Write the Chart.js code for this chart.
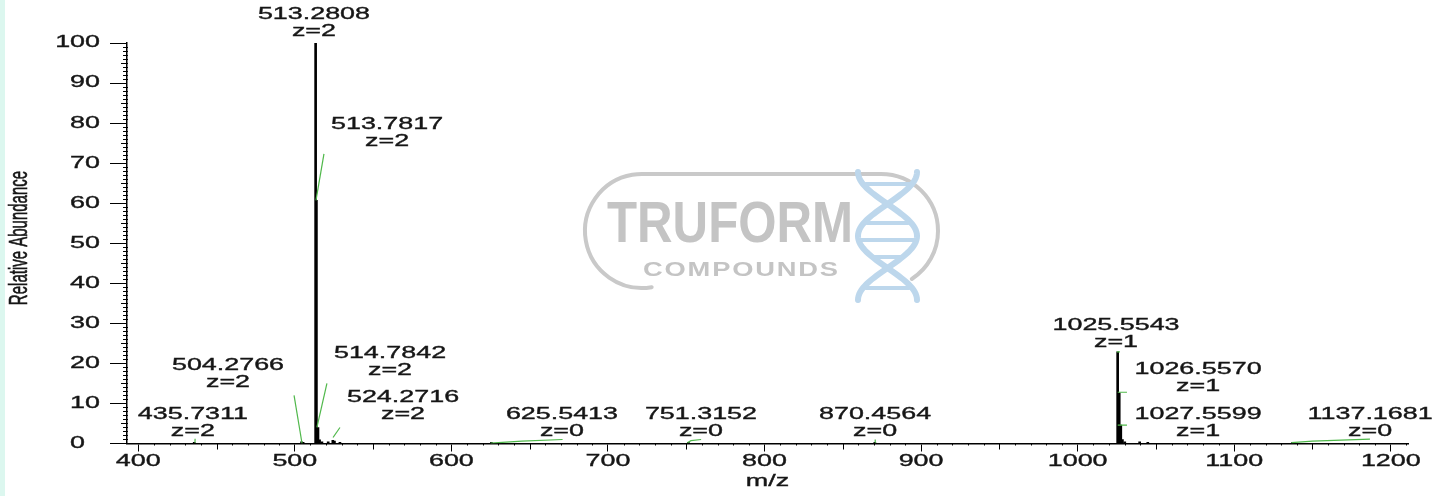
<!DOCTYPE html>
<html>
<head>
<meta charset="utf-8">
<script src="https://cdn.jsdelivr.net/npm/chart.js@4.4.0/dist/chart.umd.min.js"></script>
<style>
  html, body { margin: 0; padding: 0; background: #fff; }
  #wrap { position: relative; width: 1449px; height: 496px; overflow: hidden; }
  #wrap canvas { position: absolute; left: 0; top: 0; }
  #strip { position: absolute; left: 0; top: 0; width: 5px; height: 496px; background: #dcf7ef; }
</style>
</head>
<body>
<div id="wrap">
  <canvas id="spectrum" width="1449" height="496"></canvas>
  <div id="strip"></div>
</div>
<script>
// labelled peaks (m/z, relative abundance, charge)
const peakMz = [435.7311, 504.2766, 513.2808, 513.7817, 514.7842, 524.2716, 625.5413, 751.3152, 870.4564, 1025.5543, 1026.5570, 1027.5599, 1137.1681];
const peakAbund = [0.3, 0.4, 100, 60.7, 4.0, 0.8, 0.3, 0.3, 0.3, 22.9, 12.6, 4.6, 0.2];
const peakCharge = [2, 2, 2, 2, 2, 2, 0, 0, 0, 1, 1, 1, 0];

// small unlabelled signals near the baseline
const noiseMz = [505.3, 515.8, 517.3, 521.3, 525.3, 528.8, 1028.6, 1030.1, 1039.6, 1044.8];
const noiseAbund = [0.3, 0.9, 0.4, 0.4, 0.6, 0.3, 1.0, 0.4, 0.4, 0.3];

// green isotope-envelope marks, as [m/z, abundance] points
const envelopes = [
  [[436.2, 0.2], [436.3, 1.2]],
  [[499.5, 12.0], [504.6, 0.0]],
  [[513.5, 60.7], [518.6, 72.3]],
  [[514.1, 4.0], [520.5, 15.0]],
  [[524.4, 1.5], [528.8, 4.0]],
  [[625.0, 0.1], [645.0, 0.6], [671.0, 1.0]],
  [[750.7, 0.2], [753.0, 0.7], [759.5, 1.0]],
  [[870.6, 0.2], [870.7, 1.0]],
  [[1025.0, 22.9], [1027.0, 22.9]],
  [[1025.6, 12.8], [1031.5, 12.8]],
  [[1025.6, 4.6], [1031.5, 4.6]],
  [[1136.6, 0.2], [1150.0, 0.6], [1186.7, 1.1]]
];

const xTicks = [400, 500, 600, 700, 800, 900, 1000, 1100, 1200];
const yTicks = [0, 10, 20, 30, 40, 50, 60, 70, 80, 90, 100];

// where each peak's two-line annotation sits (centre of the "z=" line)
const labelMz = [434.9, 457.3, 512.2, 558.9, 560.8, 569.1, 670.6, 759.4, 870.6, 1024.5, 1076.9, 1076.9, 1186.8];
const labelAbund = [2.9, 15.3, 102.9, 75.5, 18.1, 7.1, 2.9, 2.9, 2.9, 25.3, 14.1, 2.9, 2.9];

const STRETCH = 1.68;
const TEXT_FONT = '16px "Liberation Sans", Arial, sans-serif';
const TEXT_COLOR = '#161616';

function stretchedText(ctx, text, x, y, align) {
  ctx.save();
  ctx.translate(x, y);
  ctx.scale(STRETCH, 1);
  ctx.textAlign = align || 'center';
  ctx.textBaseline = 'middle';
  ctx.strokeStyle = TEXT_COLOR;
  ctx.lineWidth = 0.35;
  ctx.fillText(text, 0, 0);
  ctx.strokeText(text, 0, 0);
  ctx.restore();
}

const watermark = {
  id: 'watermark',
  beforeDatasetsDraw(chart) {
    const ctx = chart.ctx;
    ctx.save();
    // pill outline
    ctx.strokeStyle = '#c9c9c9';
    ctx.lineWidth = 4;
    ctx.lineCap = 'round';
    const cy = 231, r = 57, lx = 642, rx = 881;
    ctx.beginPath();
    ctx.arc(lx, cy, r, 1.4, -Math.PI / 2, false);
    ctx.lineTo(rx, cy - r);
    ctx.arc(rx, cy, r, -Math.PI / 2, 1.0, false);
    ctx.stroke();

    // TRUFORM
    ctx.fillStyle = '#c4c4c4';
    ctx.font = 'bold 57px "Liberation Sans", Arial, sans-serif';
    ctx.textBaseline = 'alphabetic';
    ctx.textAlign = 'left';
    const w1 = ctx.measureText('TRUFORM').width;
    ctx.save();
    ctx.translate(607, 242);
    ctx.scale(246 / w1, 1);
    ctx.fillText('TRUFORM', 0, 0);
    ctx.restore();

    // COMPOUNDS, letter spaced and widened
    ctx.font = 'bold 21px "Liberation Sans", Arial, sans-serif';
    const word = 'COMPOUNDS';
    const wide = 1.3;
    const widths = word.split('').map(c => ctx.measureText(c).width * wide);
    const total = widths.reduce((a, b) => a + b, 0);
    const gap = (195 - total) / (word.length - 1);
    let cx = 643;
    word.split('').forEach((c, i) => {
      ctx.save();
      ctx.translate(cx, 276);
      ctx.scale(wide, 1);
      ctx.fillText(c, 0, 0);
      ctx.restore();
      cx += widths[i] + gap;
    });

    // DNA helix
    ctx.strokeStyle = '#bdd7ec';
    ctx.lineWidth = 6;
    const hx = 887.5, amp = 29.5, y0 = 172, period = 128;
    [1, -1].forEach(sign => {
      ctx.beginPath();
      for (let y = y0; y <= y0 + period; y += 2) {
        const x = hx + sign * amp * Math.cos(2 * Math.PI * (y - y0) / period);
        if (y === y0) ctx.moveTo(x, y); else ctx.lineTo(x, y);
      }
      ctx.stroke();
    });
    ctx.lineWidth = 4;
    [184, 223, 240, 257, 288].forEach(y => {
      const d = Math.abs(amp * Math.cos(2 * Math.PI * (y - y0) / period)) - 3;
      if (d > 4) {
        ctx.beginPath();
        ctx.moveTo(hx - d, y);
        ctx.lineTo(hx + d, y);
        ctx.stroke();
      }
    });
    ctx.restore();
  }
};

const axisText = {
  id: 'axisText',
  afterDraw(chart) {
    const ctx = chart.ctx;
    const xs = chart.scales.x, ys = chart.scales.y;
    const area = chart.chartArea;
    ctx.save();
    ctx.fillStyle = TEXT_COLOR;
    ctx.strokeStyle = '#000';
    ctx.lineWidth = 1;
    ctx.font = TEXT_FONT;

    // minor ticks on x
    for (let v = 400; v <= 1210; v += 10) {
      if (v % 100 === 0) continue;
      const px = Math.round(xs.getPixelForValue(v)) + 0.5;
      const len = v % 50 === 0 ? 6 : 2;
      ctx.beginPath();
      ctx.moveTo(px, area.bottom);
      ctx.lineTo(px, area.bottom + len);
      ctx.stroke();
    }
    // minor ticks on y
    for (let v = 1; v < 100; v++) {
      if (v % 10 === 0) continue;
      const py = Math.round(ys.getPixelForValue(v)) + 0.5;
      const len = v % 5 === 0 ? 6 : 4;
      ctx.beginPath();
      ctx.moveTo(area.left - len, py);
      ctx.lineTo(area.left + 1, py);
      ctx.stroke();
    }

    // tick labels
    xTicks.forEach(v => stretchedText(ctx, String(v), xs.getPixelForValue(v), 462));
    const twoDigit = ctx.measureText('00').width * STRETCH;
    yTicks.forEach(v => {
      const py = ys.getPixelForValue(v);
      if (v < 10) stretchedText(ctx, String(v), 100 - twoDigit, py, 'left');
      else stretchedText(ctx, String(v), 100, py, 'right');
    });

    // axis titles
    stretchedText(ctx, 'm/z', (area.left + area.right) / 2, 482);
    ctx.save();
    ctx.font = '15px "Liberation Sans", Arial, sans-serif';
    ctx.translate(20, 238);
    ctx.scale(STRETCH, 1);
    ctx.rotate(-Math.PI / 2);
    ctx.textAlign = 'center';
    ctx.textBaseline = 'middle';
    ctx.strokeStyle = TEXT_COLOR;
    ctx.lineWidth = 0.35;
    ctx.fillText('Relative Abundance', 0, 0);
    ctx.strokeText('Relative Abundance', 0, 0);
    ctx.restore();

    // peak annotations
    peakMz.forEach((m, i) => {
      const px = xs.getPixelForValue(labelMz[i]);
      const py = ys.getPixelForValue(labelAbund[i]);
      stretchedText(ctx, m.toFixed(4), px, py - 17);
      stretchedText(ctx, 'z=' + peakCharge[i], px, py);
    });
    ctx.restore();
  }
};

const sticks = peakMz.map((m, i) => ({ x: m, y: peakAbund[i] }))
  .concat(noiseMz.map((m, i) => ({ x: m, y: noiseAbund[i] })));

const envelopeSets = envelopes.map(seg => ({
  type: 'line',
  data: seg.map(p => ({ x: p[0], y: p[1] })),
  borderColor: '#4fb84a',
  borderWidth: 1.2,
  pointRadius: 0,
  fill: false,
  tension: 0,
  order: 1
}));

new Chart(document.getElementById('spectrum').getContext('2d'), {
  type: 'bar',
  data: {
    datasets: [
      {
        type: 'bar',
        data: sticks,
        backgroundColor: '#000',
        borderWidth: 0,
        barThickness: 2,
        order: 2
      },
      ...envelopeSets
    ]
  },
  options: {
    responsive: false,
    animation: false,
    layout: { padding: { top: 43, right: 41, left: 0, bottom: 0 } },
    plugins: {
      legend: { display: false },
      tooltip: { enabled: false }
    },
    scales: {
      x: {
        type: 'linear',
        min: 392.8,
        max: 1211,
        offset: false,
        grid: { display: true, drawOnChartArea: false, drawTicks: true, tickLength: 8, color: '#000', lineWidth: 1, offset: false },
        border: { display: true, color: '#000', width: 1.5 },
        ticks: { display: false },
        afterBuildTicks: s => { s.ticks = xTicks.map(v => ({ value: v })); },
        afterFit: s => { s.height = 52.5; }
      },
      y: {
        type: 'linear',
        min: 0,
        max: 100,
        grid: { display: true, drawOnChartArea: false, drawTicks: true, tickLength: 17, color: '#000', lineWidth: 1 },
        border: { display: true, color: '#000', width: 1.5 },
        ticks: { display: false },
        afterBuildTicks: s => { s.ticks = yTicks.map(v => ({ value: v })); },
        afterFit: s => { s.width = 127; }
      }
    }
  },
  plugins: [watermark, axisText]
});
</script>
</body>
</html>
